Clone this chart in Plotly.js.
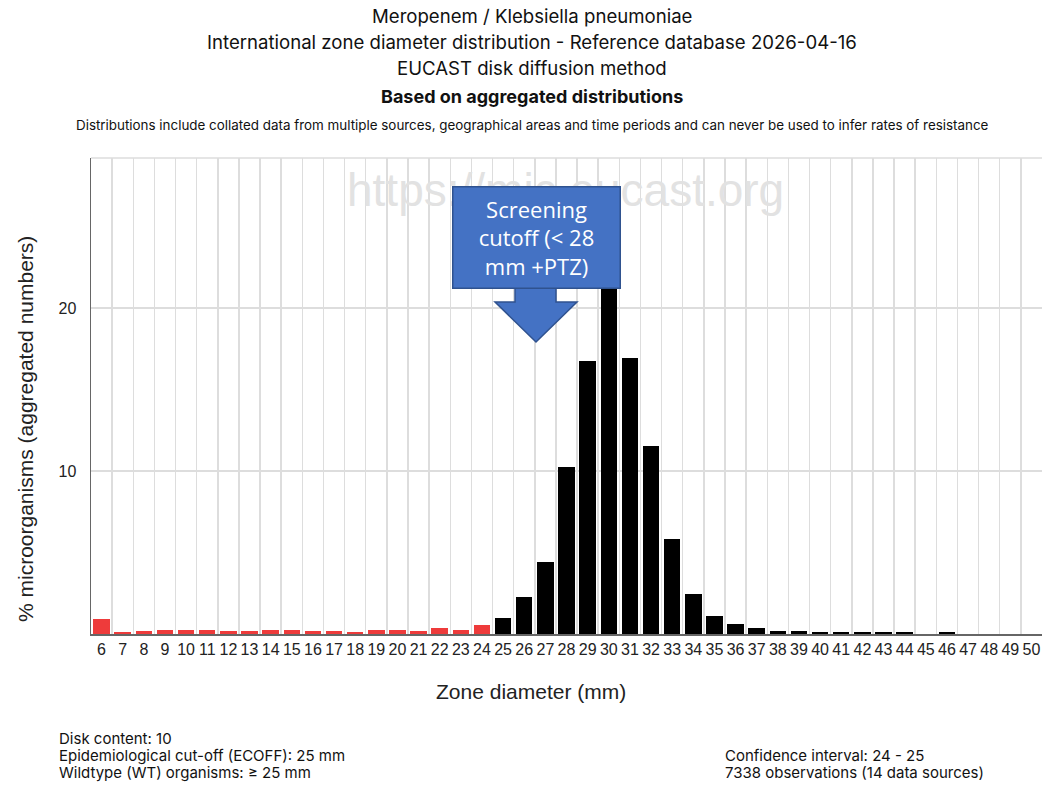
<!DOCTYPE html>
<html>
<head>
<meta charset="utf-8">
<script src="https://cdn.plot.ly/plotly-3.0.1.min.js"></script>
<style>html,body{margin:0;padding:0;background:#fff;}#chart{width:1043px;height:785px;}</style>
</head>
<body>
<div id="chart"></div>
<script>
// Zone diameters (mm) and percentage of microorganisms (aggregated)
const zones = [6,7,8,9,10,11,12,13,14,15,16,17,18,19,20,21,22,23,24,25,26,27,28,29,30,31,32,33,34,35,36,37,38,39,40,41,42,43,44,45,46,47,48,49,50];
const percent = [0.93,0.12,0.18,0.27,0.27,0.27,0.18,0.18,0.27,0.27,0.18,0.18,0.12,0.27,0.27,0.18,0.37,0.27,0.53,
                 1.0,2.25,4.42,10.27,16.77,22.5,16.93,11.53,5.85,2.43,1.09,0.59,0.34,0.16,0.16,0.1,0.1,0.1,0.1,0.1,0,0.1,0,0,0,0];
const ecoff = 25;
const yTicks = [10, 20];
const titleLines = [
  "Meropenem / Klebsiella pneumoniae",
  "International zone diameter distribution - Reference database 2026-04-16",
  "EUCAST disk diffusion method"
];
const subTitle = "Based on aggregated distributions";
const disclaimer = "Distributions include collated data from multiple sources, geographical areas and time periods and can never be used to infer rates of resistance";
const xTitle = "Zone diameter (mm)";
const yTitle = "% microorganisms (aggregated numbers)";
const infoLeft = ["Disk content: 10", "Epidemiological cut-off (ECOFF): 25 mm", "Wildtype (WT) organisms: ≥ 25 mm"];
const infoRight = ["Confidence interval: 24 - 25", "7338 observations (14 data sources)"];
const watermark = "https://mic.eucast.org";
const calloutText = "Screening<br>cutoff (< 28<br>mm +PTZ)";

const barColors = zones.map(z => z < ecoff ? "#ee3b3b" : "#000000");

const trace = {
  type: "bar",
  x: zones,
  y: percent,
  width: 0.78,
  marker: {color: barColors, line: {width: 0}},
  hoverinfo: "x+y"
};

// paper-coordinate helpers (plot area: x 91..1042, y 158..634)
const px = v => (v - 91) / 951;
const py = v => 1 - (v - 158) / 476;

const titleFont = {family: "Inter, 'Noto Sans', sans-serif", color: "#111"};
const axisFont = {family: "'Liberation Sans', Arial, sans-serif", color: "#222"};
const annotations = [];
const titleY = [16, 42, 68];
titleLines.forEach((t, i) => annotations.push({
  text: t, xref: "paper", yref: "paper", x: px(532), y: py(titleY[i]),
  xanchor: "center", yanchor: "middle", showarrow: false, font: Object.assign({size: 18.6}, titleFont)
}));
annotations.push({text: "<b>" + subTitle + "</b>", xref: "paper", yref: "paper", x: px(532), y: py(96),
  xanchor: "center", yanchor: "middle", showarrow: false, font: Object.assign({size: 18}, titleFont)});
annotations.push({text: disclaimer, xref: "paper", yref: "paper", x: px(532), y: py(125),
  xanchor: "center", yanchor: "middle", showarrow: false, font: Object.assign({size: 13.4}, titleFont)});
// axis titles
annotations.push({text: xTitle, xref: "paper", yref: "paper", x: px(531), y: py(691),
  xanchor: "center", yanchor: "middle", showarrow: false, font: Object.assign({size: 21}, axisFont)});
annotations.push({text: yTitle, xref: "paper", yref: "paper", x: px(25), y: py(429), textangle: -90,
  xanchor: "center", yanchor: "middle", showarrow: false, font: Object.assign({size: 21}, axisFont)});
// watermark
annotations.push({text: watermark, xref: "paper", yref: "paper", x: px(565), y: py(190),
  xanchor: "center", yanchor: "middle", showarrow: false,
  font: {family: "'Liberation Sans', Arial, sans-serif", size: 46, color: "#e2e2e2"}});
// bottom info
const infoY = [738, 755, 772];
infoLeft.forEach((t, i) => annotations.push({text: t, xref: "paper", yref: "paper", x: px(57), y: py(infoY[i]),
  xanchor: "left", yanchor: "middle", showarrow: false, font: {family: "Inter, sans-serif", size: 15, color: "#111"}}));
const infoRY = [755, 772];
infoRight.forEach((t, i) => annotations.push({text: t, xref: "paper", yref: "paper", x: px(723), y: py(infoRY[i]),
  xanchor: "left", yanchor: "middle", showarrow: false, font: {family: "Inter, sans-serif", size: 15, color: "#111"}}));

// callout box (drawn above the watermark)
annotations.push({text: calloutText, xref: "paper", yref: "paper", x: px(536), y: py(237), xanchor: "center", yanchor: "middle",
  showarrow: false, width: 166, height: 100, borderpad: 0, bgcolor: "#4472c4", bordercolor: "#2f528f", borderwidth: 1.5,
  font: {family: "'Open Sans', 'Noto Sans', sans-serif", size: 22, color: "#ffffff"}});

const shapes = [
  {type: "line", xref: "paper", yref: "paper", x0: 0, x1: 1, y0: 1, y1: 1, line: {color: "#dddddd", width: 1.5}},
  {type: "path", xref: "paper", yref: "paper",
   path: "M " + px(515) + " " + py(286) + " L " + px(515) + " " + py(302) + " L " + px(495) + " " + py(302) +
         " L " + px(536) + " " + py(342) + " L " + px(577) + " " + py(302) + " L " + px(556) + " " + py(302) +
         " L " + px(556) + " " + py(286) + " Z",
   fillcolor: "#4472c4", line: {color: "#2f528f", width: 1.5}, layer: "above"}
];

const layout = {
  width: 1043, height: 785,
  margin: {l: 91, r: 1, t: 158, b: 151},
  paper_bgcolor: "#ffffff", plot_bgcolor: "#ffffff",
  showlegend: false,
  bargap: 0,
  xaxis: {
    range: [5.5, 50.5], tickmode: "array", tickvals: zones, ticktext: zones.map(String),
    showgrid: false, zeroline: false, showline: true, linecolor: "#666", linewidth: 1.5,
    ticks: "", tickfont: Object.assign({size: 16}, axisFont),
    minor: {tick0: 5.5, dtick: 1, showgrid: true, gridcolor: "#dddddd", gridwidth: 1.5, ticks: ""}
  },
  yaxis: {
    range: [0, 29.2], tickmode: "array", tickvals: yTicks, ticktext: yTicks.map(String),
    showgrid: true, gridcolor: "#dddddd", gridwidth: 1.5, zeroline: false, showline: true, linecolor: "#666", linewidth: 1.5,
    ticks: "", ticklabelstandoff: 10, tickfont: Object.assign({size: 16}, axisFont)
  },
  annotations: annotations,
  shapes: shapes
};

Plotly.newPlot("chart", [trace], layout, {displayModeBar: false, staticPlot: true});
</script>
</body>
</html>
